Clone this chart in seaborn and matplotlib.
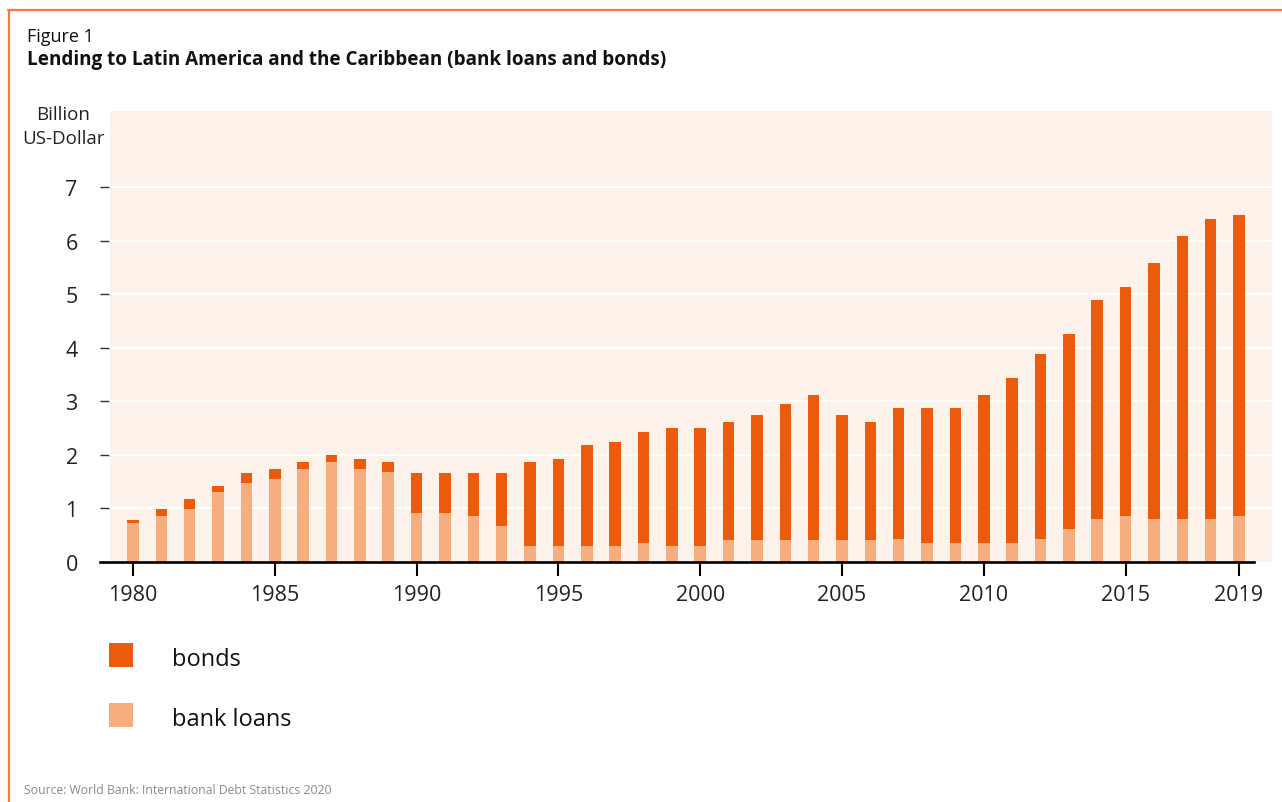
import matplotlib
matplotlib.use("Agg")
import matplotlib.pyplot as plt
from matplotlib.patches import Rectangle
from matplotlib.lines import Line2D
import seaborn as sns
import pandas as pd

years = list(range(1980, 2020))
bank_loans = [0.73, 0.86, 0.98, 1.30, 1.48, 1.55, 1.74, 1.86, 1.74, 1.68,
              0.92, 0.92, 0.86, 0.67, 0.29, 0.29, 0.29, 0.29, 0.35, 0.29,
              0.29, 0.41, 0.41, 0.41, 0.41, 0.41, 0.41, 0.42, 0.36, 0.36,
              0.36, 0.36, 0.42, 0.61, 0.80, 0.86, 0.80, 0.80, 0.80, 0.86]
bonds = [0.06, 0.12, 0.19, 0.12, 0.19, 0.19, 0.12, 0.13, 0.19, 0.18,
         0.75, 0.75, 0.81, 1.00, 1.57, 1.64, 1.89, 1.95, 2.08, 2.21,
         2.21, 2.21, 2.34, 2.53, 2.71, 2.34, 2.21, 2.45, 2.51, 2.51,
         2.76, 3.08, 3.47, 3.65, 4.09, 4.28, 4.79, 5.29, 5.60, 5.61]
tick_years = [1980, 1985, 1990, 1995, 2000, 2005, 2010, 2015, 2019]
series_labels = ["bonds", "bank loans"]

BONDS_C = "#EA5B0C"
LOANS_C = "#F6AE7F"
BG_C = "#FDF2EA"
FRAME_C = "#F07D3A"

sns.set_theme(style="white")
plt.rcParams['font.family'] = ['Open Sans', 'DejaVu Sans']

W, H = 1282, 803
fig = plt.figure(figsize=(W / 100, H / 100), dpi=100)

def fx(px):
    return px / W

def fy(py):
    return 1 - py / H

# background panel
fig.add_artist(Rectangle((fx(110), fy(563)), fx(1272) - fx(110), fy(112) - fy(563),
                         transform=fig.transFigure, facecolor=BG_C, edgecolor="none", zorder=0))
# frame lines
fig.add_artist(Line2D([fx(9), fx(9)], [fy(11), 0], transform=fig.transFigure, color=FRAME_C, lw=1.6))
fig.add_artist(Line2D([fx(8), 1], [fy(11), fy(11)], transform=fig.transFigure, color=FRAME_C, lw=1.6))

# axes
ax_left, ax_right = 100, 1272
ax_top, ax_bottom = 112, 563
ax = fig.add_axes([fx(ax_left), fy(ax_bottom), fx(ax_right) - fx(ax_left), fy(ax_top) - fy(ax_bottom)])
ax.set_facecolor("none")

df = pd.DataFrame({"year": years, "bonds": bonds, "bank_loans": bank_loans})
df["total"] = df["bonds"] + df["bank_loans"]

sns.barplot(data=df, x="year", y="total", color=BONDS_C, saturation=1, width=0.405,
            ax=ax, order=years, zorder=3, linewidth=0)
sns.barplot(data=df, x="year", y="bank_loans", color=LOANS_C, saturation=1, width=0.405,
            ax=ax, order=years, zorder=4, linewidth=0)

step = 28.36
first_px = 133
xmin = -(first_px - ax_left) / step
xmax = (ax_right - first_px) / step
ax.set_xlim(xmin, xmax)
ypx = 53.6
ax.set_ylim(0, 7 + (188 - ax_top) / ypx)

ax.set_yticks(range(0, 8))
ax.set_yticklabels([str(v) for v in range(0, 8)], fontsize=15.5, color="#222222")
ax.set_xticks([years.index(y) for y in tick_years])
ax.set_xticklabels([str(y) for y in tick_years], fontsize=15.5, color="#222222")
ax.set_xlabel("")
ax.set_ylabel("")

for s in ["top", "right", "left"]:
    ax.spines[s].set_visible(False)
ax.spines["bottom"].set_color("black")
ax.spines["bottom"].set_linewidth(1.9)
ax.spines["bottom"].set_bounds(xmin, (1254 - first_px) / step)
ax.spines["bottom"].set_zorder(6)

ax.tick_params(axis="y", direction="in", length=7.2, width=1.0, color="#333333", pad=16, left=True)
ax.tick_params(axis="x", direction="out", length=10, width=1.5, color="black", pad=5.5, bottom=True)

for v in range(1, 8):
    ax.axhline(v, xmin=(110 - ax_left) / (ax_right - ax_left), xmax=1, color="white", lw=1.4, zorder=1)

# texts
fig.text(fx(27), fy(37), "Figure 1", fontsize=13, color="#111111", va="center", ha="left")
fig.text(fx(27), fy(60), "Lending to Latin America and the Caribbean (bank loans and bonds)",
         fontsize=13.6, fontweight="bold", color="#111111", va="center", ha="left")
fig.text(fx(63), fy(127), "Billion\nUS-Dollar", fontsize=13.5, color="#222222",
         va="center", ha="center", linespacing=1.45)

# legend
for (label, col, cy) in [(series_labels[0], BONDS_C, 656), (series_labels[1], LOANS_C, 716)]:
    fig.add_artist(Rectangle((fx(109), fy(cy + 12)), fx(133) - fx(109), fy(cy - 12) - fy(cy + 12),
                             transform=fig.transFigure, facecolor=col, edgecolor="none"))
    fig.text(fx(172), fy(cy + 4), label, fontsize=17, color="#111111", va="center", ha="left")

fig.text(fx(24), fy(791), "Source: World Bank: International Debt Statistics 2020",
         fontsize=8.8, color="#8a8a8a", va="center", ha="left")

fig.savefig("out.png", dpi=100)
